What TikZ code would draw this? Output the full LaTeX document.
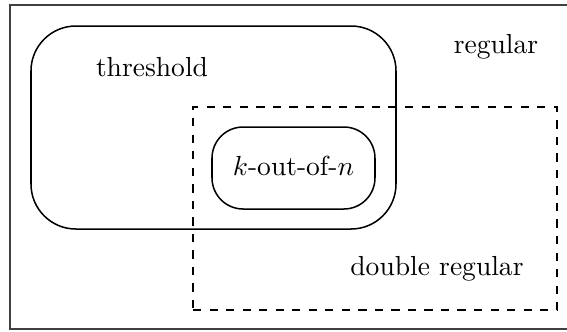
\documentclass[tikz,border=0pt]{standalone}
\begin{document}
\begin{tikzpicture}[x=0.363pt,y=-0.363pt,
  setbox/.style={draw, line width=0.55pt, inner sep=0pt},
  lbl/.style={inner sep=0pt, anchor=base}]
\useasboundingbox (0,0) rectangle (567,331);
\draw[line width=0.4pt, black!75] (10,5) rectangle (570,329);
\node[setbox, rounded corners=16.3pt, minimum width=365*0.363pt, minimum height=203*0.363pt] (thr) at (213.5,127.5) {};
\node[setbox, dashed, minimum width=364*0.363pt, minimum height=203*0.363pt] (dbl) at (375,208.5) {};
\node[setbox, rounded corners=11.3pt, minimum width=163*0.363pt, minimum height=82*0.363pt] (kn) at (293.5,168) {};
\node[lbl] (tl) at (152,76) {threshold};
\node[lbl] (rl) at (496,53) {regular};
\node[lbl] (dl) at (437,275) {double regular};
\node[lbl] (kl) at (293.5,175) {$k$-out-of-$n$};
\end{tikzpicture}
\end{document}
